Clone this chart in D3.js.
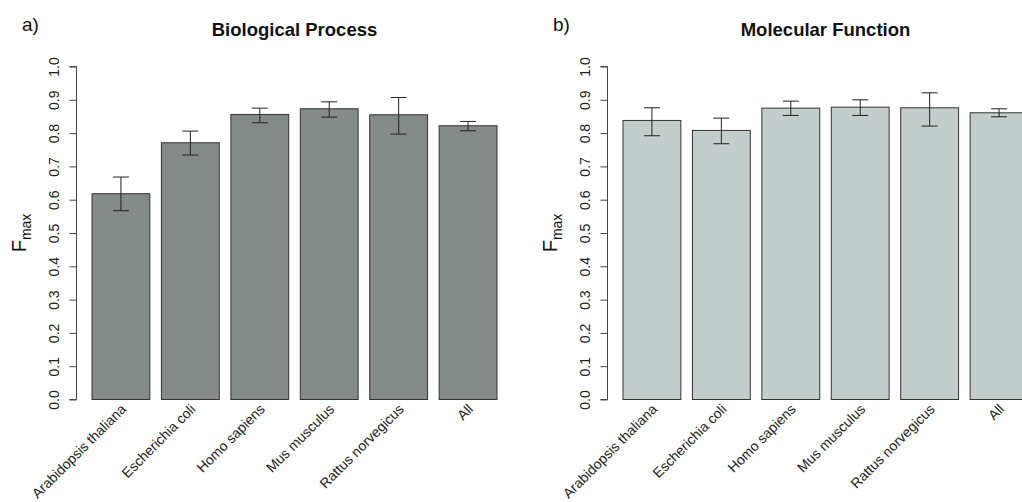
<!DOCTYPE html>
<html>
<head>
<meta charset="utf-8">
<script src="https://cdn.jsdelivr.net/npm/d3@7"></script>
<style>
  body { margin: 0; background: #fff; }
  svg { display: block; font-family: "Liberation Sans", Arial, Helvetica, sans-serif; }
</style>
</head>
<body>
<div id="chart"></div>
<script>
// species on the x axis
var species = ["Arabidopsis thaliana", "Escherichia coli", "Homo sapiens", "Mus musculus", "Rattus norvegicus", "All"];
var yTicks = [0, 0.1, 0.2, 0.3, 0.4, 0.5, 0.6, 0.7, 0.8, 0.9, 1.0];

// a) Biological Process
var bpFmax = [0.618, 0.771, 0.856, 0.873, 0.855, 0.822];
var bpLow  = [0.567, 0.734, 0.831, 0.848, 0.797, 0.807];
var bpHigh = [0.668, 0.806, 0.875, 0.894, 0.907, 0.835];

// b) Molecular Function
var mfFmax = [0.838, 0.808, 0.875, 0.878, 0.876, 0.861];
var mfLow  = [0.792, 0.768, 0.853, 0.853, 0.821, 0.849];
var mfHigh = [0.876, 0.845, 0.896, 0.900, 0.921, 0.873];

var panels = [
    {tag: "a)", title: "Biological Process", fmax: bpFmax, low: bpLow, high: bpHigh, fill: "#848b88", dx: 0},
    {tag: "b)", title: "Molecular Function", fmax: mfFmax, low: mfLow, high: mfHigh, fill: "#c2cdcc", dx: 531}
];

var svg = d3.select("#chart").append("svg")
    .attr("width", 1022)
    .attr("height", 502);

var y = d3.scaleLinear().domain([0, 1]).range([399.5, 66.5]);

panels.forEach(function (p) {
    var g = svg.append("g").attr("transform", "translate(" + p.dx + ",0)");

    var x = d3.scaleBand()
        .domain(species)
        .range([92, 497])
        .paddingInner(1 / 6)
        .paddingOuter(0);

    // panel tag and title
    g.append("text").attr("x", 22).attr("y", 31)
        .style("font-size", "19px").style("fill", "#111")
        .text(p.tag);
    g.append("text").attr("x", (92 + 497) / 2).attr("y", 36)
        .attr("text-anchor", "middle")
        .style("font-size", "18.5px").style("font-weight", "bold").style("fill", "#111")
        .text(p.title);

    // y axis
    var yAxis = g.append("g")
        .attr("transform", "translate(76.5,0)")
        .call(d3.axisLeft(y).tickValues(yTicks).tickFormat(d3.format(".1f")).tickSize(7));
    yAxis.select(".domain").attr("d", "M-7," + y(0) + "H0V" + y(1) + "H-7").attr("stroke", "#444").attr("fill", "none");
    yAxis.selectAll(".tick line").attr("stroke", "#444");
    // R style: labels turned to read upwards, centred on the tick
    yAxis.selectAll(".tick text")
        .attr("transform", "rotate(-90)")
        .attr("x", 0).attr("y", -18)
        .attr("dy", "0")
        .attr("text-anchor", "middle")
        .style("font-size", "14px").style("fill", "#222");

    // y label F_max
    var lab = g.append("text")
        .attr("transform", "translate(26," + y(0.5) + ") rotate(-90)")
        .attr("text-anchor", "middle")
        .style("font-size", "20px").style("fill", "#111");
    lab.append("tspan").text("F");
    lab.append("tspan").attr("dy", 5).style("font-size", "14px").text("max");

    // bars
    g.selectAll("rect.bar").data(species).enter().append("rect")
        .attr("class", "bar")
        .attr("x", function (d) { return x(d); })
        .attr("y", function (d, i) { return y(p.fmax[i]); })
        .attr("width", x.bandwidth())
        .attr("height", function (d, i) { return y(0) - y(p.fmax[i]); })
        .style("fill", p.fill)
        .style("stroke", "#333")
        .style("stroke-width", 1);

    // error bars
    var eb = g.selectAll("g.err").data(species).enter().append("g").attr("class", "err");
    eb.append("line")
        .attr("x1", function (d) { return x(d) + x.bandwidth() / 2; })
        .attr("x2", function (d) { return x(d) + x.bandwidth() / 2; })
        .attr("y1", function (d, i) { return y(p.low[i]); })
        .attr("y2", function (d, i) { return y(p.high[i]); });
    eb.append("line")
        .attr("x1", function (d) { return x(d) + x.bandwidth() / 2 - 8; })
        .attr("x2", function (d) { return x(d) + x.bandwidth() / 2 + 8; })
        .attr("y1", function (d, i) { return y(p.low[i]); })
        .attr("y2", function (d, i) { return y(p.low[i]); });
    eb.append("line")
        .attr("x1", function (d) { return x(d) + x.bandwidth() / 2 - 8; })
        .attr("x2", function (d) { return x(d) + x.bandwidth() / 2 + 8; })
        .attr("y1", function (d, i) { return y(p.high[i]); })
        .attr("y2", function (d, i) { return y(p.high[i]); });
    eb.selectAll("line").style("stroke", "#222").style("stroke-width", 1);

    // rotated category labels
    g.selectAll("text.cat").data(species).enter().append("text")
        .attr("class", "cat")
        .attr("transform", function (d) {
            return "translate(" + (x(d) + x.bandwidth() / 2 + 6) + ",410) rotate(-45)";
        })
        .attr("text-anchor", "end")
        .style("font-size", "14px").style("fill", "#222")
        .text(function (d) { return d; });
});
</script>
</body>
</html>
